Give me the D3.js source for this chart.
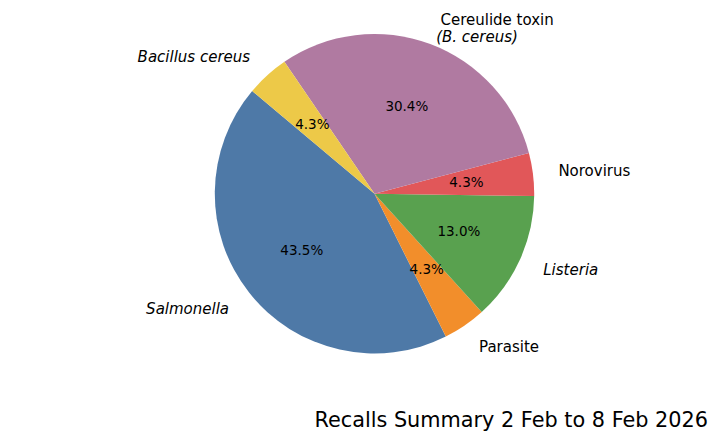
<!DOCTYPE html>
<meta charset="utf-8">
<style>
body { margin: 0; background: white; }
svg { font-family: "DejaVu Sans", sans-serif; }
</style>
<svg width="720" height="440"></svg>
<script src="https://d3js.org/d3.v7.min.js"></script>
<script>

// recalls per hazard, in drawing order (counter-clockwise from 140 deg)
var categories = ["Salmonella", "Parasite", "Listeria", "Norovirus", "Cereulide toxin", "Bacillus cereus"];
var counts = [10, 1, 3, 1, 7, 1];
var title = "Recalls Summary 2 Feb to 8 Feb 2026";

var colors = ["#4e79a7", "#f28e2b", "#59a14f", "#e15759", "#b07aa1", "#edc948"];
// label lines and which of them are italic
var labelLines = {
    "Salmonella": [["Salmonella", true]],
    "Parasite": [["Parasite", false]],
    "Listeria": [["Listeria", true]],
    "Norovirus": [["Norovirus", false]],
    "Cereulide toxin": [["Cereulide toxin", false], ["(B. cereus)", true]],
    "Bacillus cereus": [["Bacillus cereus", true]]
};

var svg = d3.select("svg"),
    cx = 374.5,
    cy = 193.7,
    radius = 159.7;

var total = d3.sum(counts);
var data = categories.map(function(c, i) { return {name: c, value: counts[i], color: colors[i]}; });

// matplotlib startangle 140, counter-clockwise -> d3 angles (clockwise from top)
var start = (90 - 140) * Math.PI / 180;
var pie = d3.pie()
    .sort(null)
    .value(function(d) { return d.value; })
    .startAngle(start)
    .endAngle(start - 2 * Math.PI);

var arcs = pie(data);

var arc = d3.arc().innerRadius(0).outerRadius(radius);
var pctArc = d3.arc().innerRadius(radius * 0.58).outerRadius(radius * 0.58);
var labelArc = d3.arc().innerRadius(radius * 1.16).outerRadius(radius * 1.16);

var g = svg.append("g").attr("transform", "translate(" + cx + "," + cy + ")");

g.append("g")
    .selectAll("path")
    .data(arcs)
    .enter().append("path")
    .attr("d", arc)
    .attr("fill", function(d) { return d.data.color; });

var pctSize = 13.5;
g.append("g")
    .selectAll("text")
    .data(arcs)
    .enter().append("text")
    .attr("x", function(d) { return pctArc.centroid(d)[0]; })
    .attr("y", function(d) { return pctArc.centroid(d)[1] + 4.2; })
    .attr("text-anchor", "middle")
    .attr("font-size", pctSize + "px")
    .attr("fill", "black")
    .text(function(d) { return d3.format(".1%")(d.data.value / total); });

var labelSize = 15;
var labels = g.append("g")
    .selectAll("text")
    .data(arcs)
    .enter().append("text")
    .attr("font-size", labelSize + "px")
    .attr("fill", "black")
    .attr("text-anchor", function(d) { return labelArc.centroid(d)[0] >= 0 ? "start" : "end"; });

labels.each(function(d) {
    var p = labelArc.centroid(d);
    var lines = labelLines[d.data.name];
    var t = d3.select(this);
    if (lines.length === 1) {
        t.append("tspan")
            .attr("x", p[0])
            .attr("y", p[1] + labelSize * 0.34)
            .attr("font-style", lines[0][1] ? "italic" : "normal")
            .text(lines[0][0]);
    } else {
        lines.forEach(function(l, i) {
            t.append("tspan")
                .attr("x", p[0] + (i === 0 ? 1.3 : -3))
                .attr("y", p[1] + 5 + i * 16.5)
                .attr("font-style", l[1] ? "italic" : "normal")
                .text(l[0]);
        });
    }
});

svg.append("text")
    .attr("x", 708)
    .attr("y", 427)
    .attr("text-anchor", "end")
    .attr("font-size", "20.8px")
    .attr("fill", "black")
    .text(title);

</script>
